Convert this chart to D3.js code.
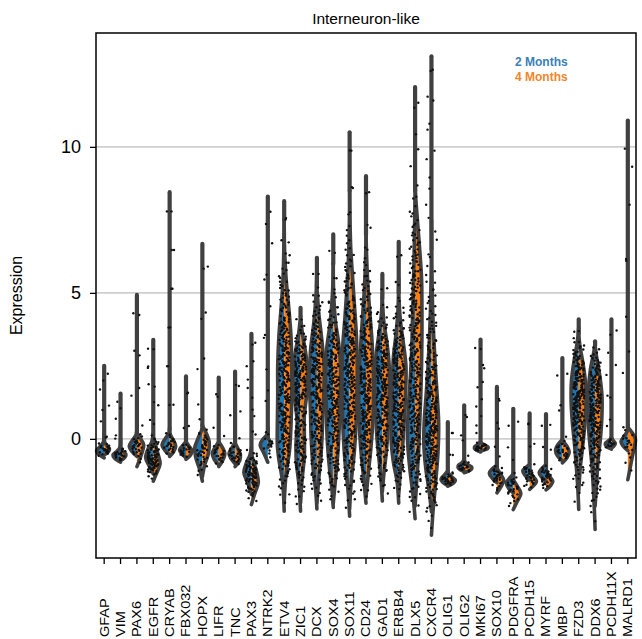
<!DOCTYPE html>
<html>
<head>
<meta charset="utf-8">
<script src="https://cdn.jsdelivr.net/npm/d3@7"></script>
<style>
    body { margin: 0; background: #fff; }
    text { font-family: "Liberation Sans", Arial, Helvetica, sans-serif; }
</style>
</head>
<body>
<svg id="chart" width="642" height="639"></svg>
<script>
/***** Données *****/

// Gènes (ordre de l'axe x)
const genes = ["GFAP", "VIM", "PAX6", "EGFR", "CRYAB", "FBX032", "HOPX", "LIFR", "TNC", "PAX3",
    "NTRK2", "ETV4", "ZIC1", "DCX", "SOX4", "SOX11", "CD24", "GAD1", "ERBB4", "DLX5", "CXCR4",
    "OLIG1", "OLIG2", "MKI67", "SOX10", "PDGFRA", "PCDH15", "MYRF", "MBP", "FZD3", "DDX6",
    "PCDH11X", "MALRD1"];

// Valeur maximale (haut de la tige) par gène
const geneMax = [2.5, 1.55, 4.93, 3.39, 8.45, 2.14, 6.68, 2.1, 2.3, 3.6,
    8.3, 8.14, 4.49, 6.2, 7.0, 10.5, 9.0, 5.65, 6.75, 12.05, 13.1,
    0.57, 1.15, 3.4, 1.78, 1.03, 0.87, 0.85, 2.77, 4.09, 3.34,
    4.09, 10.9];

// Profil de densité [expression, densité relative] — 2 Months (moitié gauche)
const density2M = [
    [[-0.65, 0], [-0.5, 0.85], [-0.4, 1], [-0.28, 0.6], [-0.1, 0.1], [0.2, 0]],
    [[-0.8, 0], [-0.66, 0.8], [-0.55, 1], [-0.45, 0.6], [-0.3, 0.1], [0, 0]],
    [[-0.6, 0], [-0.45, 0.6], [-0.25, 1], [-0.05, 0.6], [0.15, 0.1], [0.4, 0]],
    [[-1.2, 0], [-0.95, 0.5], [-0.65, 1], [-0.35, 0.7], [-0.1, 0.2], [0.2, 0]],
    [[-0.55, 0], [-0.4, 0.6], [-0.2, 1], [0, 0.6], [0.2, 0.1], [0.4, 0]],
    [[-0.65, 0], [-0.5, 0.6], [-0.38, 0.85], [-0.25, 0.5], [-0.1, 0]],
    [[-1.45, 0], [-1.1, 0.3], [-0.6, 0.9], [-0.3, 1], [0, 0.6], [0.3, 0.1], [0.5, 0]],
    [[-0.9, 0], [-0.7, 0.6], [-0.5, 0.85], [-0.3, 0.5], [-0.1, 0]],
    [[-0.85, 0], [-0.65, 0.6], [-0.5, 0.8], [-0.3, 0.4], [-0.1, 0]],
    [[-1.9, 0], [-1.5, 0.5], [-1.15, 1], [-0.85, 0.7], [-0.55, 0.2], [-0.3, 0]],
    [[-0.8, 0], [-0.5, 0.5], [-0.2, 1], [0, 0.6], [0.15, 0.1], [0.4, 0]],
    [[-2.48, 0], [-1.5, 0.2], [-0.7, 0.7], [-0.2, 0.9], [0.5, 0.9], [1.5, 0.85], [2.5, 0.85], [3.5, 0.7], [4.5, 0.4], [5.5, 0.15], [6.5, 0.05], [7.5, 0]],
    [[-2.48, 0], [-1.6, 0.2], [-0.8, 0.55], [-0.2, 0.6], [0.6, 0.45], [1.4, 0.8], [2.1, 1], [2.8, 0.8], [3.5, 0.3], [4.2, 0]],
    [[-2.4, 0], [-1.8, 0.15], [-1, 0.5], [0, 0.75], [1, 0.85], [2, 1], [3, 0.85], [4, 0.4], [5, 0.1], [5.8, 0]],
    [[-2.35, 0], [-1.8, 0.15], [-1, 0.5], [0, 0.8], [1, 0.9], [2, 1], [3, 0.9], [4, 0.4], [5, 0.1], [6, 0]],
    [[-2.65, 0], [-1.8, 0.2], [-0.8, 0.6], [0.2, 0.85], [1.2, 0.95], [2.2, 1], [3.2, 0.9], [4.2, 0.6], [5.2, 0.35], [6.2, 0.15], [7.5, 0.03], [8.5, 0]],
    [[-2.2, 0], [-1.5, 0.25], [-0.6, 0.6], [0.3, 0.85], [1.2, 0.95], [2.2, 0.9], [3.2, 0.7], [4.2, 0.45], [5.2, 0.2], [6.2, 0.05], [7, 0]],
    [[-2.13, 0], [-1.5, 0.15], [-0.8, 0.4], [0, 0.7], [1, 0.9], [2, 1], [2.8, 0.85], [3.6, 0.45], [4.2, 0.15], [5, 0]],
    [[-2.2, 0], [-1.5, 0.2], [-0.8, 0.7], [0, 1], [0.8, 0.9], [1.8, 0.85], [2.8, 0.7], [3.6, 0.35], [4.4, 0.1], [5.5, 0]],
    [[-2.73, 0], [-2, 0.25], [-1, 0.7], [0, 1], [1, 0.9], [2, 0.65], [3, 0.45], [4, 0.35], [5, 0.25], [6, 0.15], [7, 0.08], [8.5, 0]],
    [[-2.5, 0], [-1.8, 0.3], [-1, 0.75], [-0.2, 1], [0.6, 0.95], [1.5, 0.7], [2.5, 0.45], [3.5, 0.25], [4.5, 0.12], [5.5, 0.05], [6.5, 0]],
    [[-1.6, 0], [-1.48, 0.7], [-1.38, 0.9], [-1.25, 0.5], [-1.1, 0]],
    [[-1.12, 0], [-1.02, 0.7], [-0.92, 0.8], [-0.82, 0.3], [-0.7, 0]],
    [[-0.45, 0], [-0.36, 0.7], [-0.28, 0.8], [-0.2, 0.4], [-0.1, 0]],
    [[-1.5, 0], [-1.35, 0.6], [-1.18, 1], [-1.02, 0.6], [-0.9, 0]],
    [[-1.85, 0], [-1.7, 0.6], [-1.5, 0.9], [-1.35, 0.5], [-1.2, 0]],
    [[-1.4, 0], [-1.25, 0.6], [-1.1, 0.9], [-0.98, 0.5], [-0.88, 0]],
    [[-1.45, 0], [-1.3, 0.6], [-1.15, 0.9], [-1.0, 0.5], [-0.88, 0]],
    [[-0.75, 0], [-0.6, 0.6], [-0.38, 0.9], [-0.2, 0.6], [-0.02, 0]],
    [[-2.42, 0], [-1.8, 0.1], [-1, 0.3], [-0.2, 0.55], [0.6, 0.85], [1.3, 1], [2, 0.95], [2.7, 0.6], [3.3, 0.2], [3.8, 0]],
    [[-3.1, 0], [-2.4, 0.1], [-1.6, 0.25], [-0.8, 0.45], [0, 0.75], [0.8, 0.95], [1.6, 0.9], [2.4, 0.6], [3, 0.15], [3.3, 0]],
    [[-0.35, 0], [-0.25, 0.7], [-0.15, 0.8], [-0.05, 0.3], [0.05, 0]],
    [[-0.4, 0], [-0.25, 0.6], [-0.1, 0.9], [0.05, 0.6], [0.25, 0.1], [0.5, 0]]
];

// Profil de densité — 4 Months (moitié droite)
const density4M = [
    [[-0.55, 0], [-0.45, 0.5], [-0.35, 0.7], [-0.25, 0.4], [-0.1, 0]],
    [[-0.75, 0], [-0.62, 0.6], [-0.52, 0.7], [-0.42, 0.3], [-0.3, 0]],
    [[-0.95, 0], [-0.75, 0.3], [-0.45, 0.7], [-0.2, 0.9], [0, 0.5], [0.2, 0]],
    [[-1.45, 0], [-1.2, 0.4], [-0.85, 0.9], [-0.5, 0.6], [-0.2, 0.3], [0.1, 0]],
    [[-0.6, 0], [-0.45, 0.5], [-0.25, 0.8], [-0.05, 0.5], [0.15, 0.1], [0.3, 0]],
    [[-0.7, 0], [-0.55, 0.6], [-0.4, 0.8], [-0.25, 0.4], [-0.1, 0]],
    [[-1.3, 0], [-0.9, 0.3], [-0.5, 0.8], [-0.1, 0.9], [0.2, 0.5], [0.45, 0]],
    [[-0.95, 0], [-0.75, 0.5], [-0.5, 0.8], [-0.3, 0.5], [-0.1, 0]],
    [[-0.95, 0], [-0.75, 0.6], [-0.55, 0.7], [-0.35, 0.4], [-0.15, 0]],
    [[-2.25, 0], [-1.9, 0.4], [-1.5, 0.9], [-1.15, 0.7], [-0.8, 0.3], [-0.5, 0]],
    [[-0.3, 0], [-0.2, 0.25], [-0.1, 0.3], [0, 0.1], [0.1, 0]],
    [[-2.2, 0], [-1.2, 0.25], [-0.4, 0.7], [0.5, 0.9], [1.5, 1], [2.5, 1], [3.5, 0.9], [4.5, 0.6], [5.5, 0.25], [6.5, 0.05], [7.5, 0]],
    [[-2.2, 0], [-1.4, 0.2], [-0.6, 0.5], [0.2, 0.5], [0.8, 0.5], [1.5, 0.8], [2.2, 0.95], [2.9, 0.7], [3.6, 0.25], [4.2, 0]],
    [[-2.2, 0], [-1.5, 0.2], [-0.5, 0.55], [0.5, 0.75], [1.5, 0.9], [2.5, 0.95], [3.5, 0.6], [4.3, 0.25], [5.2, 0]],
    [[-2.2, 0], [-1.5, 0.25], [-0.5, 0.6], [0.5, 0.8], [1.5, 0.9], [2.5, 0.95], [3.3, 0.7], [4, 0.3], [5, 0.05], [6, 0]],
    [[-2.4, 0], [-1.5, 0.2], [-0.5, 0.6], [0.5, 0.85], [1.5, 0.95], [2.5, 1], [3.5, 0.9], [4.5, 0.65], [5.5, 0.4], [6.5, 0.15], [7.5, 0.05], [8.5, 0]],
    [[-2, 0], [-1.2, 0.3], [-0.3, 0.65], [0.6, 0.9], [1.5, 1], [2.5, 0.95], [3.5, 0.75], [4.5, 0.45], [5.5, 0.2], [6.5, 0.05], [7.2, 0]],
    [[-1.8, 0], [-1.2, 0.2], [-0.5, 0.5], [0.5, 0.8], [1.5, 0.9], [2.5, 0.9], [3.3, 0.6], [4, 0.2], [4.8, 0]],
    [[-1.9, 0], [-1.2, 0.2], [-0.5, 0.45], [0.5, 0.7], [1.5, 0.9], [2.5, 0.95], [3.3, 0.6], [4.1, 0.2], [5, 0]],
    [[-2.3, 0], [-1.5, 0.2], [-0.5, 0.45], [0.5, 0.6], [1.5, 0.75], [2.5, 0.85], [3.5, 0.9], [4.5, 0.9], [5.5, 0.85], [6.5, 0.6], [7.5, 0.3], [8.3, 0.08], [9, 0]],
    [[-3.3, 0], [-2.5, 0.2], [-1.5, 0.55], [-0.5, 0.85], [0.5, 0.95], [1.5, 0.75], [2.5, 0.5], [3.5, 0.3], [4.5, 0.15], [6, 0.05], [7.5, 0]],
    [[-1.62, 0], [-1.5, 0.8], [-1.42, 1], [-1.3, 0.5], [-1.15, 0]],
    [[-1.16, 0], [-1.05, 0.9], [-0.97, 1], [-0.87, 0.4], [-0.75, 0]],
    [[-0.42, 0], [-0.34, 0.9], [-0.28, 1], [-0.2, 0.4], [-0.12, 0]],
    [[-1.85, 0], [-1.65, 0.5], [-1.42, 0.9], [-1.22, 0.5], [-1.0, 0]],
    [[-2.42, 0], [-2.15, 0.5], [-1.88, 1], [-1.65, 0.6], [-1.4, 0]],
    [[-1.73, 0], [-1.58, 0.6], [-1.45, 0.9], [-1.3, 0.5], [-1.15, 0]],
    [[-1.75, 0], [-1.6, 0.6], [-1.45, 0.9], [-1.3, 0.5], [-1.1, 0]],
    [[-0.82, 0], [-0.65, 0.6], [-0.45, 0.9], [-0.25, 0.6], [-0.05, 0]],
    [[-1.8, 0], [-1, 0.2], [-0.3, 0.5], [0.5, 0.8], [1.2, 0.95], [1.9, 0.9], [2.6, 0.55], [3.2, 0.15], [3.6, 0]],
    [[-2.3, 0], [-1.5, 0.2], [-0.7, 0.4], [0, 0.7], [0.8, 0.9], [1.5, 0.9], [2.2, 0.6], [2.8, 0.2], [3.2, 0]],
    [[-0.32, 0], [-0.22, 0.4], [-0.15, 0.5], [-0.05, 0.2], [0.05, 0]],
    [[-1.4, 0], [-1.0, 0.3], [-0.6, 0.6], [-0.25, 0.9], [0, 1], [0.2, 0.6], [0.4, 0]]
];

// Nombre de cellules affichées (points) par gène
const cells2M = [14, 12, 16, 45, 18, 10, 24, 12, 14, 50, 14, 150, 120, 130, 130, 160, 150, 130, 140, 160, 160,
    14, 12, 14, 18, 16, 16, 16, 14, 120, 120, 10, 12];
const cells4M = [16, 14, 18, 45, 16, 10, 24, 14, 16, 45, 10, 150, 120, 130, 130, 160, 150, 130, 140, 160, 160,
    14, 12, 16, 18, 18, 16, 16, 16, 120, 120, 10, 14];

const yTicks = [0, 5, 10];
const groups = ["2 Months", "4 Months"];

/***** Configuration *****/
(function (d3) {
    "use strict";

    const height = 639;
    const plot = { left: 96, right: 636, top: 33, bottom: 558 };
    const colors = ["#1f77b4", "#ff7f0e"];
    const legendColors = ["#3a7fb8", "#f0862a"];
    const edge = "#404040";
    const halfWidth = 7.6;

    const svg = d3.select("#chart");

    const x = d3.scaleBand().domain(genes).range([plot.left, plot.right]);
    const y = d3.scaleLinear().domain([-4.08, 13.9]).range([plot.bottom, plot.top]);

    // Grille horizontale
    svg.append("g").selectAll("line").data(yTicks).join("line")
        .attr("x1", plot.left).attr("x2", plot.right)
        .attr("y1", d => y(d)).attr("y2", d => y(d))
        .attr("stroke", "#cfcfcf").attr("stroke-width", 1.6);

    // Densité interpolée linéairement entre les points du profil
    function densityAt(profile, v) {
        if (v <= profile[0][0] || v >= profile[profile.length - 1][0]) return 0;
        for (let i = 1; i < profile.length; i++) {
            if (v <= profile[i][0]) {
                const a = profile[i - 1], b = profile[i];
                return a[1] + (b[1] - a[1]) * (v - a[0]) / (b[0] - a[0]);
            }
        }
        return 0;
    }

    // Position des cellules : quantiles du profil (+ tige jusqu'au maximum)
    function cellValues(profile, top, n) {
        const lo = profile[0][0], step = 0.01;
        const grid = d3.range(lo, top + step, step);
        const dens = grid.map(v => densityAt(profile, v) + 0.03);
        const cum = d3.cumsum(dens);
        const total = cum[cum.length - 1];
        return d3.range(n).map(k => {
            const target = (k + 0.5) / n * total;
            const idx = d3.bisectLeft(cum, target);
            return grid[Math.min(idx, grid.length - 1)];
        });
    }

    // Décalage horizontal (jitter) déterministe
    function jitter(k, side, gi) {
        const s = Math.sin(k * 127.1 + side * 311.7 + gi * 74.7) * 43758.5453;
        return s - Math.floor(s) - 0.5;
    }

    const curve = d3.curveCatmullRom.alpha(0.5);
    const violins = svg.append("g");

    genes.forEach(function (gene, gi) {
        const cx = x(gene) + x.bandwidth() / 2;
        const halves = [density2M[gi], density4M[gi]];
        const g = violins.append("g");

        // Tige jusqu'à la valeur maximale
        const stickFrom = Math.min(halves[0][halves[0].length - 1][0], halves[1][halves[1].length - 1][0]);
        g.append("line")
            .attr("x1", cx).attr("x2", cx)
            .attr("y1", y(stickFrom)).attr("y2", y(geneMax[gi]))
            .attr("stroke", edge).attr("stroke-width", 4.2)
            .attr("stroke-linecap", "round");

        halves.forEach(function (profile, side) {
            const dir = side === 0 ? -1 : 1;
            const area = d3.area().curve(curve)
                .y(d => y(d[0]))
                .x0(cx)
                .x1(d => cx + dir * Math.max(0, d[1]) * halfWidth);
            g.append("path").datum(profile)
                .attr("d", area)
                .attr("fill", colors[side]);
        });
        halves.forEach(function (profile, side) {
            const dir = side === 0 ? -1 : 1;
            const line = d3.line().curve(curve)
                .y(d => y(d[0]))
                .x(d => cx + dir * Math.max(0, d[1]) * halfWidth);
            g.append("path").datum(profile)
                .attr("d", line)
                .attr("fill", "none")
                .attr("stroke", edge).attr("stroke-width", 3.6)
                .attr("stroke-linejoin", "round").attr("stroke-linecap", "round");
        });
    });

    // Points (cellules)
    const dots = svg.append("g");
    genes.forEach(function (gene, gi) {
        const cx = x(gene) + x.bandwidth() / 2;
        [[density2M[gi], cells2M[gi]], [density4M[gi], cells4M[gi]]].forEach(function (pair, side) {
            const vals = cellValues(pair[0], geneMax[gi], pair[1]);
            dots.selectAll(null).data(vals).join("circle")
                .attr("cx", (d, k) => cx + jitter(k, side, gi) * 11)
                .attr("cy", d => y(d))
                .attr("r", 1.2)
                .attr("fill", "#111");
        });
    });

    // Cadre
    svg.append("rect")
        .attr("x", plot.left).attr("y", plot.top)
        .attr("width", plot.right - plot.left).attr("height", plot.bottom - plot.top)
        .attr("fill", "none").attr("stroke", "#000").attr("stroke-width", 1.5);

    // Axe x
    const xAxis = svg.append("g")
        .attr("transform", "translate(0," + plot.bottom + ")")
        .call(d3.axisBottom(x).tickSize(6).tickSizeOuter(0));
    xAxis.select(".domain").remove();
    xAxis.selectAll(".tick line").attr("stroke", "#000").attr("stroke-width", 1.3);
    xAxis.selectAll(".tick text")
        .attr("transform", "rotate(-90) scale(1,0.85)")
        .attr("text-anchor", "start")
        .attr("x", -(height - 2 - plot.bottom))
        .attr("y", 0).attr("dy", "0.36em")
        .attr("font-size", 14.5).attr("fill", "#000");

    // Axe y
    const yAxis = svg.append("g")
        .attr("transform", "translate(" + plot.left + ",0)")
        .call(d3.axisLeft(y).tickValues(yTicks).tickSize(6).tickSizeOuter(0));
    yAxis.select(".domain").remove();
    yAxis.selectAll(".tick line").attr("stroke", "#000").attr("stroke-width", 1.3);
    yAxis.selectAll(".tick text").attr("font-size", 18).attr("fill", "#000").attr("x", -15);

    svg.append("text")
        .attr("transform", "translate(22," + ((plot.top + plot.bottom) / 2) + ") rotate(-90)")
        .attr("text-anchor", "middle")
        .attr("font-size", 16)
        .text("Expression");

    // Titre
    svg.append("text")
        .attr("x", (plot.left + plot.right) / 2).attr("y", 24)
        .attr("text-anchor", "middle")
        .attr("font-size", 15.5)
        .text("Interneuron-like");

    // Légende
    svg.append("g").selectAll("text").data(groups).join("text")
        .attr("x", 515).attr("y", (d, i) => 66 + i * 15)
        .attr("font-size", 12).attr("font-weight", "bold")
        .attr("fill", (d, i) => legendColors[i])
        .text(d => d);
})(d3);
</script>
</body>
</html>
